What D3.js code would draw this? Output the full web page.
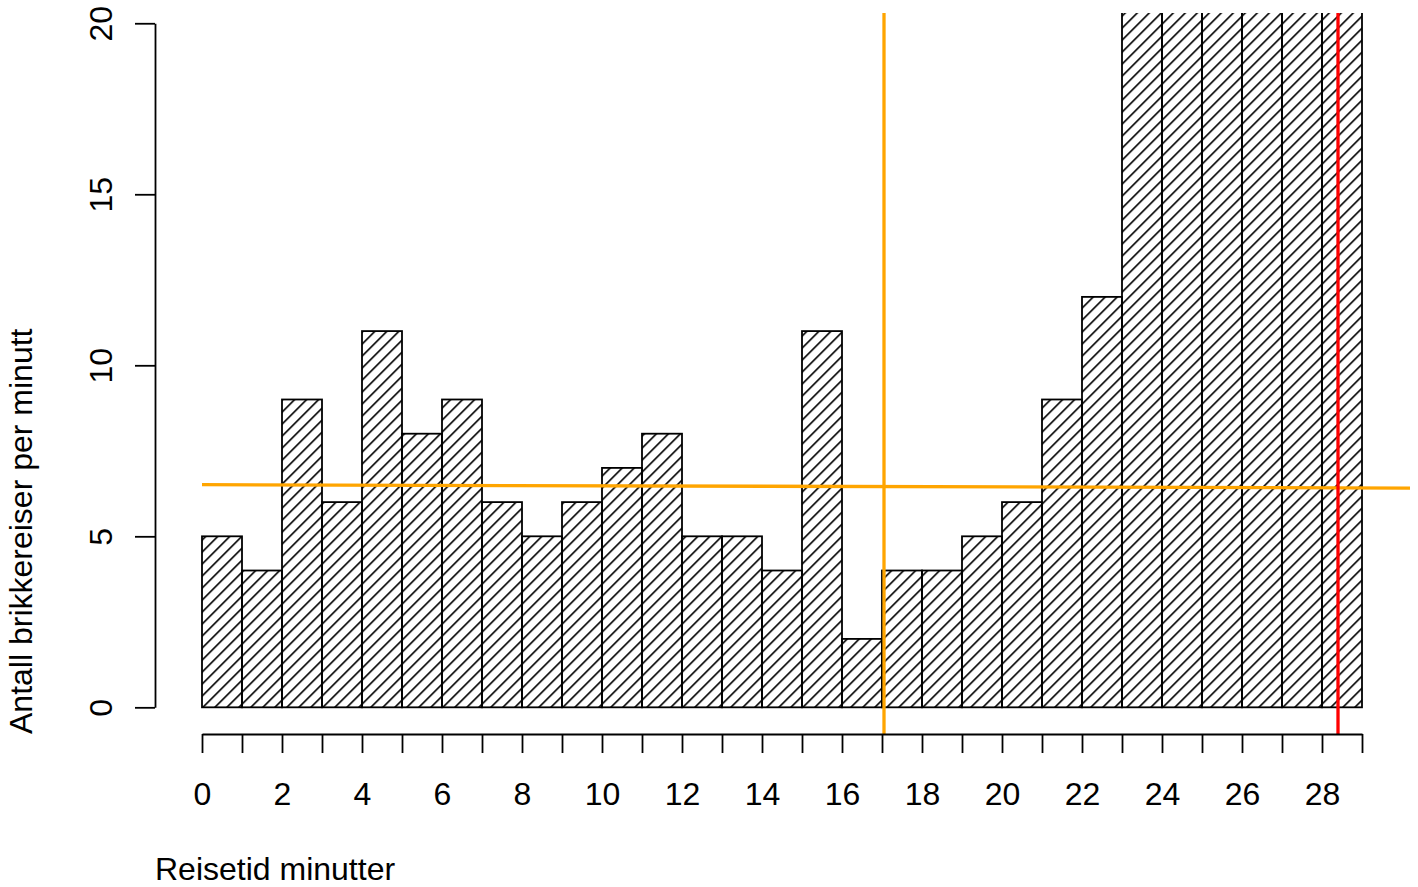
<!DOCTYPE html>
<html>
<head>
<meta charset="utf-8">
<script src="https://cdn.jsdelivr.net/npm/d3@7"></script>
<style>
  html, body { margin: 0; padding: 0; background: #fff; }
  svg { display: block; }
  text { font-family: "Liberation Sans", Arial, Helvetica, sans-serif; fill: #000; }
</style>
</head>
<body>
<svg id="chart" width="1418" height="887"></svg>
<script>
// ---- data ----
const binStarts = [0,1,2,3,4,5,6,7,8,9,10,11,12,13,14,15,16,17,18,19,20,21,22,23,24,25,26,27,28];
const counts    = [5,4,9,6,11,8,9,6,5,6,7,8,5,5,4,11,2,4,4,5,6,9,12,24,28,31,34,37,40];
const xTicks = d3.range(0, 30, 1);
const xLabels = [0,2,4,6,8,10,12,14,16,18,20,22,24,26,28];
const yTicks = [0,5,10,15,20];
const trendLine = [[0, 6.51], [30.2, 6.41]];
const orangeV = 17.05;
const redV = 28.4;
const xTitle = "Reisetid minutter";
const yTitle = "Antall brikkereiser per minutt";

// ---- layout ----
const svg = d3.select("#chart");
const plot = { left: 155, right: 1410, top: 13, bottom: 734 };
const x = d3.scaleLinear().domain([-1.175, 30.2]).range([plot.left, plot.right]);
const y = d3.scaleLinear().domain([-0.78, 20.3]).range([plot.bottom, plot.top]);

// hatch pattern
const defs = svg.append("defs");
const pat = defs.append("pattern")
  .attr("id", "hatch")
  .attr("patternUnits", "userSpaceOnUse")
  .attr("width", 12 / Math.SQRT2)
  .attr("height", 20)
  .attr("patternTransform", "translate(202,707) rotate(45)");
pat.append("line")
  .attr("x1", 0.8).attr("y1", -2).attr("x2", 0.8).attr("y2", 22)
  .attr("stroke", "#000").attr("stroke-width", 1.6);

defs.append("clipPath").attr("id", "plotclip")
  .append("rect")
  .attr("x", plot.left).attr("y", plot.top)
  .attr("width", plot.right - plot.left).attr("height", plot.bottom - plot.top);

const g = svg.append("g").attr("clip-path", "url(#plotclip)");

// bars
g.selectAll("rect.bar").data(binStarts).join("rect")
  .attr("class", "bar")
  .attr("x", d => x(d))
  .attr("width", d => x(d + 1) - x(d))
  .attr("y", (d, i) => y(counts[i]))
  .attr("height", (d, i) => y(0) - y(counts[i]))
  .attr("fill", "url(#hatch)")
  .attr("stroke", "#000")
  .attr("stroke-width", 1.8);

// trend line (orange)
g.append("line")
  .attr("x1", x(trendLine[0][0])).attr("y1", y(trendLine[0][1]))
  .attr("x2", x(trendLine[1][0])).attr("y2", y(trendLine[1][1]))
  .attr("stroke", "orange").attr("stroke-width", 3.3);

// vertical lines
g.append("line")
  .attr("x1", x(orangeV)).attr("x2", x(orangeV))
  .attr("y1", plot.top).attr("y2", plot.bottom)
  .attr("stroke", "orange").attr("stroke-width", 3.3);
g.append("line")
  .attr("x1", x(redV)).attr("x2", x(redV))
  .attr("y1", plot.top).attr("y2", plot.bottom)
  .attr("stroke", "red").attr("stroke-width", 3.3);

// x axis
const xAxisScale = x.copy().domain([0, 29]).range([x(0), x(29)]);
const xAxis = d3.axisBottom(xAxisScale)
  .tickValues(xTicks)
  .tickSize(19)
  .tickSizeOuter(0)
  .tickPadding(29)
  .tickFormat(d => xLabels.includes(d) ? String(d) : "");
const gx = svg.append("g").attr("transform", `translate(0,${plot.bottom})`).call(xAxis);
gx.selectAll("path, line").attr("stroke", "#000").attr("stroke-width", 1.8);
gx.selectAll("text").style("font-size", "32px")
  .style("font-family", '"Liberation Sans", Arial, sans-serif').attr("fill", "#000");

// y axis
const yAxisScale = y.copy().domain([0, 20]).range([y(0), y(20)]);
const yAxis = d3.axisLeft(yAxisScale)
  .tickValues(yTicks)
  .tickSize(20)
  .tickSizeOuter(0)
  .tickFormat(d3.format("d"));
const gy = svg.append("g").attr("transform", `translate(${plot.left},0)`).call(yAxis);
gy.selectAll("path, line").attr("stroke", "#000").attr("stroke-width", 1.8);
gy.selectAll("text")
  .attr("x", null).attr("dy", null)
  .attr("text-anchor", "middle")
  .attr("transform", "translate(-43,0) rotate(-90)")
  .style("font-size", "32px")
  .style("font-family", '"Liberation Sans", Arial, sans-serif').attr("fill", "#000");

// titles
svg.append("text")
  .attr("x", plot.left).attr("y", 880)
  .attr("text-anchor", "start")
  .style("font-size", "32px")
  .text(xTitle);
svg.append("text")
  .attr("transform", `translate(32,${plot.bottom}) rotate(-90)`)
  .attr("text-anchor", "start")
  .style("font-size", "32px")
  .text(yTitle);
</script>
</body>
</html>
